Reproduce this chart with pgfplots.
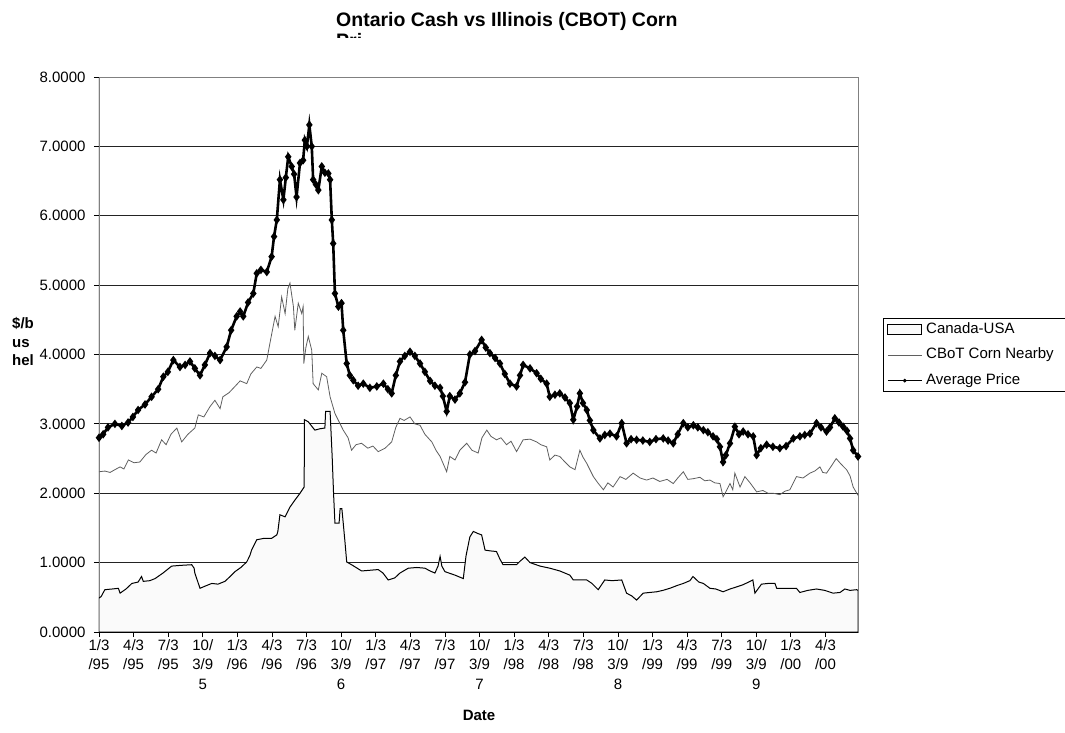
\documentclass[border=0pt]{standalone}
\usepackage{fontspec}
\setmainfont{Liberation Sans}
\usepackage{pgfplots}
\pgfplotsset{compat=1.18}
\definecolor{areafill}{RGB}{250,250,250}
\definecolor{cbotgray}{RGB}{95,95,95}
\definecolor{gridc}{RGB}{35,35,35}
\definecolor{bordergray}{RGB}{128,128,128}
\begin{document}
\begin{tikzpicture}
\path[use as bounding box] (0pt,0pt) rectangle (1065pt,732pt);
\node[anchor=base west, font=\fontsize{19.5}{23}\selectfont\bfseries, inner sep=0pt] at (336pt,705.5pt) {Ontario Cash vs Illinois (CBOT) Corn};
\begin{scope}
\clip (330pt,694pt) rectangle (420pt,699.5pt);
\node[anchor=base west, font=\fontsize{19.5}{23}\selectfont\bfseries, inner sep=0pt] at (336pt,684pt) {Pri};
\end{scope}
\node[anchor=west, align=left, font=\fontsize{15}{18.5}\selectfont\bfseries, inner sep=0pt] at (12pt,390pt) {\$/b\\us\\hel};
\node[font=\fontsize{15}{18}\selectfont\bfseries, inner sep=0pt] at (479pt,17pt) {Date};
\begin{axis}[
  at={(99pt,100pt)}, anchor=south west,
  scale only axis, width=759pt, height=555pt,
  xmin=0, xmax=21.94, ymin=0, ymax=8,
  xtick={0,...,21},
  xticklabels={{1/3\\/95},{4/3\\/95},{7/3\\/95},{10/\\3/9\\5},{1/3\\/96},{4/3\\/96},{7/3\\/96},{10/\\3/9\\6},{1/3\\/97},{4/3\\/97},{7/3\\/97},{10/\\3/9\\7},{1/3\\/98},{4/3\\/98},{7/3\\/98},{10/\\3/9\\8},{1/3\\/99},{4/3\\/99},{7/3\\/99},{10/\\3/9\\9},{1/3\\/00},{4/3\\/00}},
  ytick={0,1,2,3,4,5,6,7,8},
  yticklabels={0.0000,1.0000,2.0000,3.0000,4.0000,5.0000,6.0000,7.0000,8.0000},
  tick align=outside, xtick pos=left, ytick pos=left,
  major tick length=5pt,
  tick style={black, line width=0.8pt},
  ymajorgrids, grid style={gridc, line width=1pt},
  axis line style={bordergray, line width=0.8pt},
  ticklabel style={font=\fontsize{15}{19.5}\selectfont},
  xticklabel style={align=center, anchor=north, inner sep=2pt},
  yticklabel style={xshift=-5pt},
  legend style={at={(1.0329,0.5658)}, anchor=north west, draw=black, line width=0.8pt, fill=white,
    inner xsep=4pt, inner ysep=3pt, row sep=9pt,
    font=\fontsize{15}{18}\selectfont, cells={anchor=west},
    nodes={inner sep=1pt, text height=11pt, text depth=3.5pt},
    /tikz/every odd column/.append style={column sep=3pt}},
]
\addplot[draw=black, line width=1pt, fill=areafill, forget plot] table {
0.00 0.49
0.06 0.51
0.17 0.61
0.38 0.62
0.56 0.63
0.61 0.56
0.78 0.62
0.95 0.70
1.13 0.72
1.23 0.80
1.28 0.73
1.47 0.74
1.62 0.77
1.85 0.85
2.10 0.95
2.34 0.96
2.68 0.97
2.75 0.92
2.77 0.85
2.92 0.63
3.06 0.66
3.26 0.70
3.44 0.69
3.64 0.73
3.79 0.80
3.93 0.87
4.10 0.93
4.27 1.01
4.36 1.10
4.41 1.18
4.56 1.33
4.77 1.35
4.99 1.35
5.14 1.40
5.17 1.45
5.23 1.69
5.38 1.66
5.52 1.80
5.66 1.90
5.81 2.00
5.93 2.09
5.94 3.06
6.05 3.03
6.16 2.96
6.24 2.91
6.39 2.93
6.53 2.94
6.55 3.18
6.68 3.18
6.74 2.53
6.78 2.00
6.82 1.57
6.94 1.57
6.97 1.78
7.02 1.78
7.06 1.57
7.11 1.30
7.16 1.01
7.30 0.97
7.43 0.93
7.59 0.88
7.83 0.89
8.07 0.90
8.21 0.85
8.36 0.75
8.55 0.78
8.70 0.85
8.94 0.92
9.19 0.93
9.42 0.92
9.57 0.88
9.71 0.85
9.80 0.95
9.86 1.09
9.91 0.95
10.00 0.87
10.29 0.82
10.53 0.77
10.61 1.10
10.72 1.37
10.82 1.45
10.95 1.42
11.06 1.40
11.16 1.18
11.30 1.17
11.49 1.16
11.59 1.05
11.68 0.97
11.88 0.97
12.07 0.97
12.17 1.02
12.31 1.08
12.46 1.00
12.75 0.95
13.03 0.92
13.32 0.88
13.61 0.82
13.71 0.75
14.10 0.75
14.25 0.70
14.43 0.61
14.62 0.75
14.83 0.74
15.11 0.75
15.25 0.56
15.40 0.52
15.54 0.46
15.73 0.56
15.92 0.57
16.12 0.58
16.30 0.60
16.50 0.63
16.71 0.67
16.89 0.70
17.08 0.74
17.17 0.80
17.34 0.72
17.47 0.70
17.66 0.63
17.83 0.62
18.04 0.58
18.24 0.62
18.43 0.65
18.61 0.68
18.82 0.73
18.90 0.75
18.96 0.56
19.15 0.69
19.34 0.70
19.54 0.70
19.59 0.63
19.97 0.63
20.16 0.63
20.26 0.57
20.49 0.60
20.74 0.62
20.98 0.60
21.22 0.56
21.42 0.57
21.56 0.62
21.71 0.60
21.90 0.61
21.94 0.60
} \closedcycle;
\addplot[cbotgray, line width=0.8pt, forget plot] table {
0.00 2.31
0.17 2.32
0.32 2.30
0.46 2.34
0.61 2.38
0.72 2.35
0.85 2.48
1.01 2.44
1.18 2.45
1.36 2.56
1.52 2.62
1.65 2.58
1.81 2.77
1.94 2.70
2.08 2.85
2.25 2.94
2.39 2.74
2.57 2.85
2.77 2.94
2.87 3.13
3.03 3.10
3.21 3.25
3.35 3.34
3.50 3.22
3.58 3.39
3.76 3.45
3.93 3.54
4.08 3.62
4.27 3.58
4.39 3.72
4.56 3.82
4.68 3.80
4.85 3.92
4.94 4.16
5.09 4.55
5.18 4.40
5.28 4.83
5.38 4.59
5.46 4.95
5.52 5.03
5.62 4.69
5.66 4.35
5.76 4.74
5.86 4.59
5.90 4.69
5.92 3.87
5.98 4.10
6.05 4.26
6.15 4.06
6.19 3.58
6.34 3.49
6.44 3.73
6.58 3.68
6.68 3.39
6.82 3.15
7.06 2.91
7.20 2.80
7.30 2.62
7.43 2.70
7.59 2.72
7.77 2.65
7.92 2.68
8.07 2.60
8.27 2.65
8.46 2.74
8.58 2.95
8.70 3.08
8.82 3.05
8.99 3.10
9.13 3.00
9.28 2.98
9.42 2.85
9.62 2.74
9.74 2.62
9.86 2.53
10.05 2.31
10.14 2.53
10.29 2.48
10.43 2.62
10.63 2.72
10.78 2.62
10.96 2.58
11.07 2.80
11.21 2.91
11.33 2.82
11.49 2.77
11.62 2.80
11.78 2.70
11.91 2.75
12.07 2.60
12.26 2.77
12.46 2.78
12.65 2.74
12.77 2.70
12.94 2.67
13.03 2.48
13.18 2.55
13.32 2.53
13.47 2.45
13.61 2.38
13.76 2.34
13.90 2.62
13.99 2.52
14.10 2.43
14.29 2.24
14.42 2.15
14.58 2.05
14.71 2.15
14.86 2.09
15.06 2.24
15.23 2.20
15.44 2.29
15.64 2.22
15.83 2.19
16.01 2.22
16.21 2.17
16.42 2.20
16.60 2.14
16.73 2.22
16.89 2.31
17.02 2.20
17.18 2.21
17.37 2.23
17.51 2.18
17.66 2.19
17.80 2.15
17.95 2.14
18.04 1.95
18.12 2.02
18.24 2.14
18.32 2.05
18.38 2.29
18.53 2.09
18.67 2.24
18.82 2.15
19.01 2.02
19.19 2.04
19.34 2.00
19.49 2.00
19.68 1.98
19.83 2.03
19.97 2.05
20.16 2.24
20.35 2.22
20.55 2.29
20.69 2.32
20.84 2.38
20.92 2.30
21.03 2.29
21.18 2.40
21.31 2.50
21.45 2.42
21.61 2.34
21.71 2.25
21.80 2.09
21.94 1.97
};
\addplot[black, line width=2.6pt, mark=diamond*, mark size=2.2pt, forget plot] table {
0.00 2.80
0.12 2.85
0.26 2.95
0.46 3.00
0.66 2.97
0.84 3.02
0.98 3.10
1.13 3.20
1.33 3.28
1.52 3.39
1.71 3.50
1.86 3.68
1.99 3.75
2.15 3.92
2.34 3.82
2.49 3.85
2.63 3.90
2.77 3.80
2.92 3.70
3.06 3.85
3.21 4.02
3.35 3.98
3.50 3.92
3.69 4.11
3.82 4.35
3.98 4.55
4.08 4.62
4.17 4.55
4.31 4.75
4.46 4.88
4.56 5.17
4.68 5.22
4.85 5.19
4.99 5.41
5.06 5.70
5.14 5.94
5.23 6.52
5.33 6.23
5.40 6.55
5.47 6.85
5.57 6.71
5.64 6.60
5.71 6.27
5.81 6.76
5.90 6.80
5.95 7.09
6.01 7.00
6.08 7.31
6.15 7.00
6.19 6.52
6.27 6.45
6.34 6.37
6.44 6.71
6.53 6.62
6.63 6.61
6.68 6.52
6.73 5.94
6.77 5.60
6.82 4.88
6.92 4.69
7.01 4.74
7.06 4.35
7.16 3.87
7.25 3.70
7.35 3.63
7.49 3.55
7.64 3.58
7.83 3.52
8.03 3.54
8.22 3.58
8.35 3.50
8.46 3.44
8.58 3.70
8.70 3.90
8.84 3.98
8.99 4.04
9.13 3.98
9.28 3.87
9.42 3.75
9.57 3.62
9.71 3.55
9.86 3.52
9.94 3.40
10.05 3.18
10.14 3.40
10.29 3.35
10.43 3.44
10.58 3.60
10.72 4.00
10.87 4.05
11.06 4.21
11.18 4.10
11.30 4.02
11.45 3.95
11.59 3.87
11.73 3.72
11.88 3.58
12.07 3.54
12.17 3.70
12.26 3.85
12.46 3.80
12.65 3.73
12.77 3.65
12.94 3.58
13.03 3.39
13.18 3.42
13.32 3.44
13.47 3.38
13.61 3.30
13.71 3.06
13.82 3.25
13.90 3.44
13.99 3.30
14.10 3.20
14.19 3.05
14.29 2.91
14.48 2.79
14.62 2.84
14.77 2.86
14.96 2.82
15.11 3.01
15.25 2.72
15.38 2.78
15.54 2.77
15.72 2.76
15.92 2.74
16.10 2.78
16.31 2.79
16.45 2.76
16.60 2.72
16.73 2.85
16.89 3.01
17.02 2.95
17.18 2.98
17.31 2.95
17.47 2.91
17.60 2.88
17.75 2.82
17.86 2.78
17.95 2.67
18.04 2.45
18.12 2.55
18.24 2.72
18.38 2.96
18.50 2.85
18.62 2.89
18.76 2.85
18.91 2.82
19.01 2.55
19.13 2.65
19.30 2.70
19.48 2.67
19.68 2.65
19.86 2.68
20.07 2.79
20.26 2.82
20.40 2.84
20.55 2.86
20.74 3.01
20.87 2.95
21.03 2.89
21.13 2.95
21.27 3.08
21.39 3.02
21.51 2.96
21.62 2.90
21.71 2.79
21.80 2.62
21.94 2.53
};
\draw[black, line width=1pt] (rel axis cs:0,0) -- (rel axis cs:0,1);
\draw[black, line width=1pt] (rel axis cs:0,0) -- (rel axis cs:1,0);
\addlegendimage{legend image code/.code={\draw[fill=areafill, draw=black, line width=0.8pt] (0pt,-5pt) rectangle (34pt,5pt);}}
\addlegendentry{Canada-USA}
\addlegendimage{legend image code/.code={\draw[cbotgray, line width=0.8pt] (0pt,0pt) -- (34pt,0pt);}}
\addlegendentry{CBoT Corn Nearby\hspace*{16pt}}
\addlegendimage{legend image code/.code={\draw[black, line width=0.8pt] (0pt,0pt) -- (34pt,0pt); \fill[black] (17pt,0pt) circle (1.5pt);}}
\addlegendentry{Average Price}
\end{axis}
\end{tikzpicture}
\end{document}
